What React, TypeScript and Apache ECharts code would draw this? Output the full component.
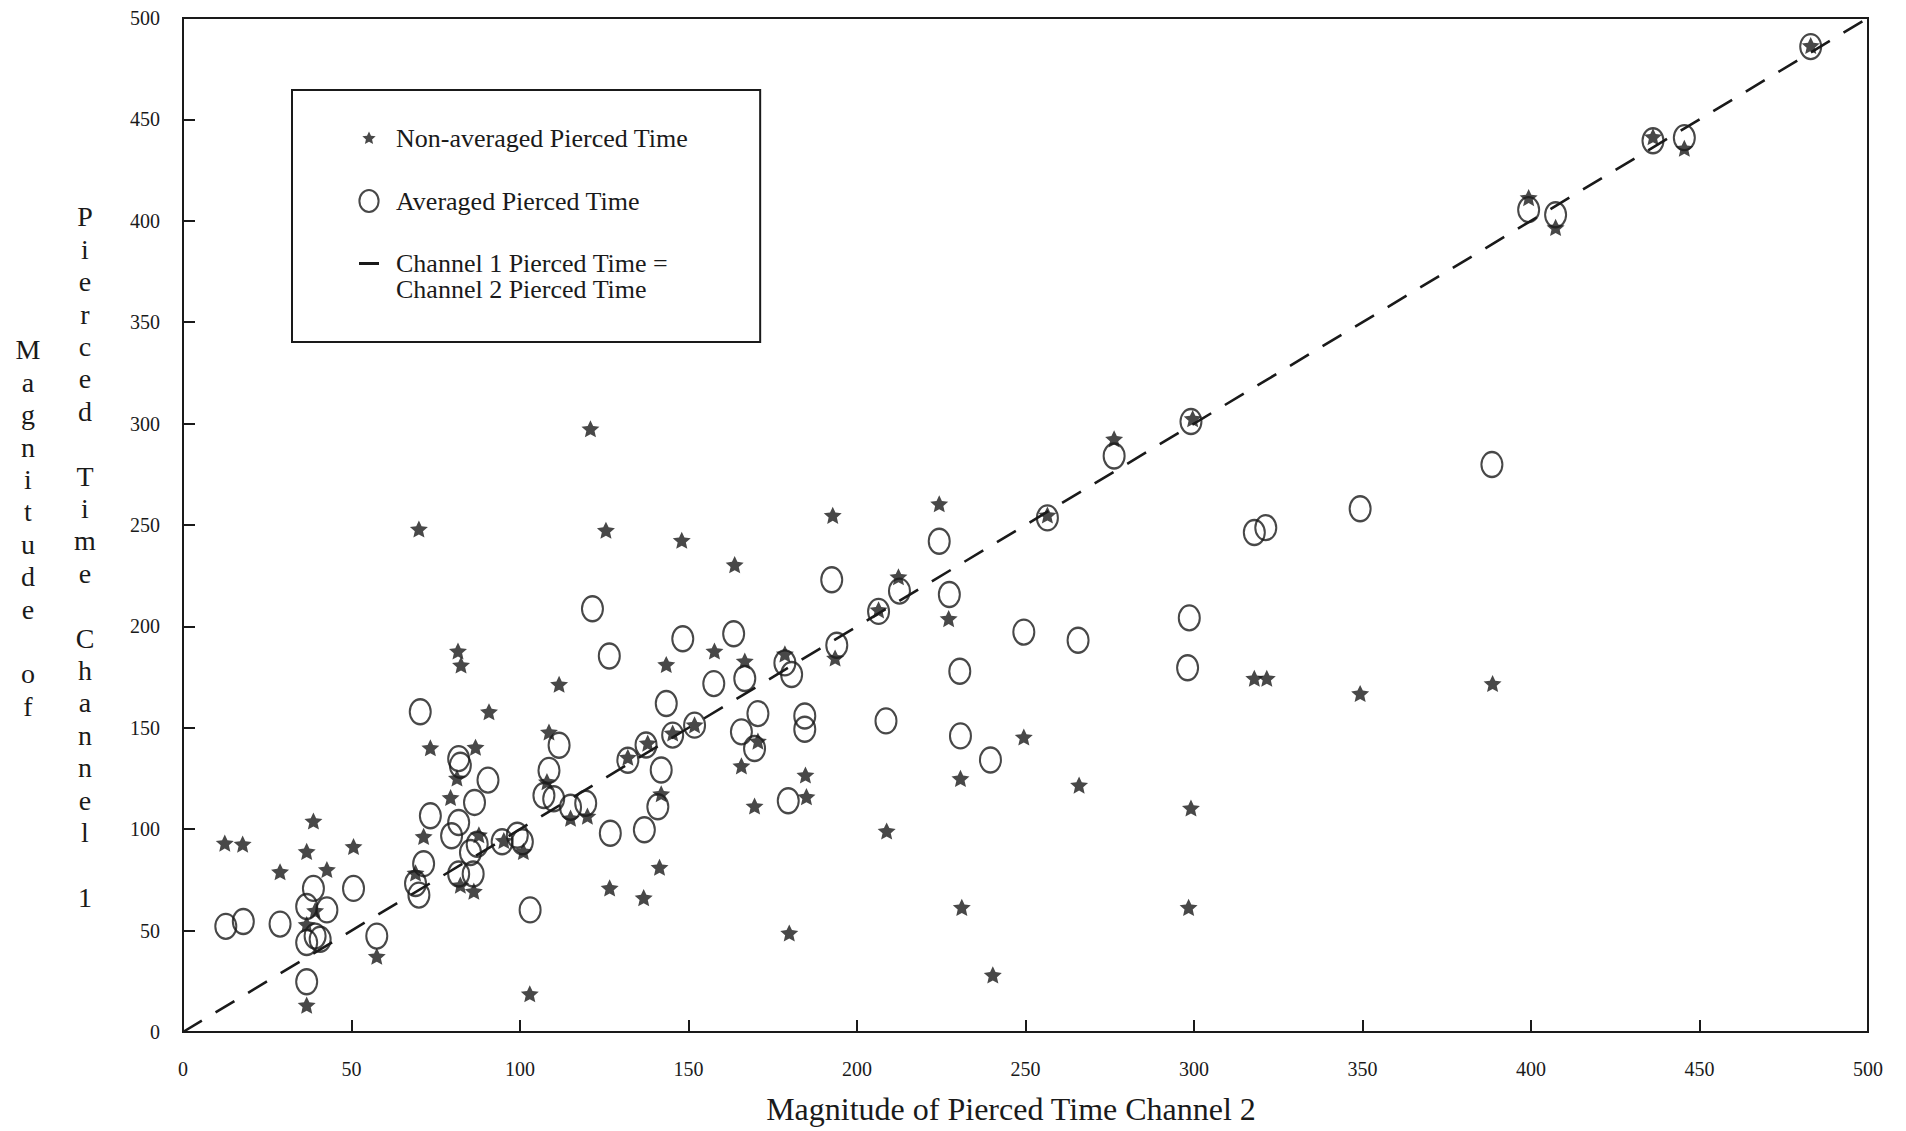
import React, { useEffect, useRef } from "react";
import * as echarts from "echarts";

// ---- data ----
const xTickValues = [0, 50, 100, 150, 200, 250, 300, 350, 400, 450, 500];
const yTickValues = [0, 50, 100, 150, 200, 250, 300, 350, 400, 450, 500];

const nonAveraged: [number, number][] = [
  [12.4, 92.7], [17.7, 92.2], [28.8, 78.6], [38.7, 103.6], [36.7, 88.6], [42.7, 79.7],
  [50.6, 91.0], [36.7, 12.8], [57.5, 36.9], [39.2, 59.4], [36.7, 52.6],
  [73.4, 139.7], [86.8, 140.0], [79.4, 115.2], [81.3, 124.8], [71.4, 96.0], [69.0, 78.0],
  [87.8, 96.8], [86.3, 69.0], [82.3, 72.0], [101.0, 88.6], [102.9, 18.4], [108.6, 147.5],
  [108.0, 123.0], [115.0, 105.0], [95.2, 94.0],
  [81.6, 187.4], [82.5, 180.5], [111.6, 171.0], [90.8, 157.5], [120.0, 106.0], [143.4, 180.8],
  [157.7, 187.4], [166.7, 182.5], [165.7, 130.8], [169.6, 111.0], [141.4, 80.8], [141.9, 117.0],
  [170.6, 143.0], [132.0, 135.0], [137.9, 142.0], [145.3, 147.0], [151.8, 151.0], [163.7, 230.0],
  [126.6, 70.6], [136.7, 65.8], [120.9, 297.0], [125.5, 247.0], [148.0, 242.0], [70.0, 247.6],
  [192.8, 254.3], [224.4, 260.0], [276.3, 292.0], [212.3, 224.0], [206.4, 207.7], [256.5, 254.5],
  [299.6, 302.0], [227.2, 203.4], [193.5, 184.0], [178.6, 186.0], [249.5, 145.0], [230.7, 124.6],
  [265.9, 121.3], [299.1, 110.0], [184.7, 126.3], [185.0, 115.6],
  [208.8, 98.7], [231.1, 61.0], [179.9, 48.4], [240.3, 27.7], [298.4, 61.0],
  [317.9, 174.0], [321.6, 174.0], [349.3, 166.5], [388.6, 171.4],
  [399.3, 411.0], [407.3, 396.3], [436.2, 441.0], [445.5, 435.3], [483.0, 486.0],
];

const averaged: [number, number][] = [
  [12.7, 52.1], [17.9, 54.5], [28.8, 53.2], [38.7, 70.8], [36.7, 61.9], [42.7, 60.2],
  [36.7, 44.1], [39.2, 47.3], [40.7, 45.7], [36.7, 24.8], [50.6, 70.8], [57.5, 47.3],
  [70.0, 67.5], [69.0, 73.2], [71.4, 83.0], [73.4, 106.6], [81.8, 134.8], [82.3, 131.5],
  [90.5, 124.2], [86.5, 113.2], [81.8, 103.3], [79.7, 96.8], [85.3, 88.5], [87.3, 92.6],
  [81.8, 77.9], [86.1, 77.9], [94.7, 93.8], [99.2, 97.0], [100.7, 93.8], [103.0, 60.2],
  [111.6, 141.4], [108.6, 129.0], [107.1, 116.6], [110.0, 115.0], [115.0, 110.8],
  [121.5, 208.7], [126.5, 185.4], [148.3, 193.9], [163.4, 196.4], [157.5, 171.8], [166.7, 174.3],
  [143.4, 162.0], [170.6, 157.0], [165.7, 148.0], [169.6, 139.8], [141.9, 129.2], [140.9, 111.1],
  [136.9, 99.7], [126.8, 98.0], [70.4, 157.9], [119.5, 112.8], [132.0, 134.0], [137.4, 141.5],
  [145.3, 146.4], [151.8, 151.3],
  [224.4, 242.0], [192.5, 223.0], [212.6, 217.4], [206.4, 207.4], [256.5, 253.5], [276.3, 284.0],
  [299.1, 301.0], [227.4, 215.7], [194.0, 190.7], [249.5, 197.2], [265.6, 193.2], [298.6, 204.2],
  [298.1, 179.6], [178.6, 182.0], [180.6, 176.3], [230.5, 177.9], [184.5, 155.8], [184.5, 149.3],
  [208.6, 153.4], [230.7, 146.0], [239.6, 134.1], [179.6, 114.0],
  [388.4, 279.8], [349.3, 258.0], [317.9, 246.3], [321.3, 248.7],
  [399.3, 405.5], [407.3, 403.0], [436.2, 439.5], [445.5, 441.0], [483.0, 485.9],
];

const equalityLine: [number, number][] = [[0, 0], [500, 500]];

const seriesNames = [
  "Non-averaged Pierced Time",
  "Averaged Pierced Time",
  "Channel 1 Pierced Time =\nChannel 2 Pierced Time",
];
const xAxisTitle = "Magnitude of Pierced Time Channel 2";
const yAxisTitleColumns = ["Magnitude of", "Pierced Time Channel 1"];

// ---- styling ----
const INK = "#1a1a1a";
const SERIF = "'Liberation Serif', 'Times New Roman', serif";

// 5-pointed star padded inside a 100x100 box (M points keep the padding)
const STAR =
  "path://M0 0M100 100M50 15L60.0 36.2L83.29 39.18L65.2 54.9L70.57 78.32L50 67L29.43 78.32L34.8 54.9L16.71 39.18L40.0 36.2Z";
const ELLIPSE =
  "path://M50 0C77.6 0 100 22.4 100 50C100 77.6 77.6 100 50 100C22.4 100 0 77.6 0 50C0 22.4 22.4 0 50 0Z";

// legend icons, all in a 100x140 box so they map uniformly onto a 20x28 item
const LEGEND_STAR =
  "path://M0 0M100 140M50 37L60.0 58.2L83.29 61.18L65.2 76.9L70.57 100.32L50 89L29.43 100.32L34.8 76.9L16.71 61.18L40.0 58.2Z";
const LEGEND_ELLIPSE =
  "path://M0 0M100 140M50 15C76.5 15 98 39.6 98 70C98 100.4 76.5 125 50 125C23.5 125 2 100.4 2 70C2 39.6 23.5 15 50 15Z";
const LEGEND_DASH = "path://M0 140M0 1L100 1L100 16L0 16Z";

const stack = (s: string) =>
  s
    .split("")
    .map((c) => (c === " " ? "" : c))
    .join("\n");

export default function App() {
  const ref = useRef<HTMLDivElement>(null);

  useEffect(() => {
    if (!ref.current) return;
    const chart = echarts.init(ref.current, undefined, { renderer: "svg" });
    const xMin = xTickValues[0];
    const xMax = xTickValues[xTickValues.length - 1];
    const yMin = yTickValues[0];
    const yMax = yTickValues[yTickValues.length - 1];

    const axisCommon = {
      type: "value" as const,
      interval: 50,
      axisLine: { show: true, onZero: false, lineStyle: { color: INK, width: 2 } },
      axisTick: { show: true, inside: true, length: 12, lineStyle: { color: INK, width: 2 } },
      splitLine: { show: false },
    };

    chart.setOption({
      animation: false,
      backgroundColor: "#ffffff",
      grid: {
        left: 183,
        right: 38,
        top: 18,
        bottom: 99,
        show: true,
        borderColor: INK,
        borderWidth: 2,
        backgroundColor: "rgba(0,0,0,0)",
        containLabel: false,
        outerBoundsMode: "none",
      },
      xAxis: {
        ...axisCommon,
        min: xMin,
        max: xMax,
        name: xAxisTitle,
        nameLocation: "middle",
        nameGap: 61,
        nameMoveOverlap: false,
        nameTextStyle: {
          fontFamily: SERIF,
          fontSize: 32,
          color: INK,
          padding: [0, 29, 0, 0],
        },
        axisLabel: {
          margin: 27,
          fontFamily: SERIF,
          fontSize: 20,
          color: INK,
          showMinLabel: true,
          showMaxLabel: true,
        },
      },
      yAxis: {
        ...axisCommon,
        min: yMin,
        max: yMax,
        axisLabel: {
          margin: 23,
          fontFamily: SERIF,
          fontSize: 20,
          color: INK,
          showMinLabel: true,
          showMaxLabel: true,
        },
      },
      legend: {
        show: true,
        orient: "vertical",
        left: 292,
        top: 90,
        padding: [34, 72, 40, 66],
        itemGap: 34,
        itemWidth: 20,
        itemHeight: 28,
        symbolKeepAspect: false,
        selectedMode: false,
        borderColor: INK,
        borderWidth: 2,
        borderRadius: 0,
        backgroundColor: "#ffffff",
        textStyle: {
          fontFamily: SERIF,
          fontSize: 26,
          lineHeight: 26,
          color: INK,
          padding: [0, 0, 0, 12],
        },
        data: [
          { name: seriesNames[0], icon: LEGEND_STAR, itemStyle: { color: INK, borderWidth: 0 } },
          {
            name: seriesNames[1],
            icon: LEGEND_ELLIPSE,
            itemStyle: { color: "rgba(255,255,255,0)", borderColor: INK, borderWidth: 2 },
          },
          { name: seriesNames[2], icon: LEGEND_DASH, itemStyle: { color: INK, borderWidth: 0 } },
        ],
      },
      graphic: [
        {
          type: "text",
          x: 28,
          y: 528,
          silent: true,
          style: {
            text: stack(yAxisTitleColumns[0]),
            fill: INK,
            fontFamily: SERIF,
            fontSize: 28,
            lineHeight: 32.4,
            align: "center",
            verticalAlign: "middle",
          },
        },
        {
          type: "text",
          x: 85,
          y: 557,
          silent: true,
          style: {
            text: stack(yAxisTitleColumns[1]),
            fill: INK,
            fontFamily: SERIF,
            fontSize: 28,
            lineHeight: 32.4,
            align: "center",
            verticalAlign: "middle",
          },
        },
      ],
      series: [
        {
          name: seriesNames[2],
          type: "line",
          data: equalityLine,
          symbol: "none",
          silent: true,
          z: 1,
          itemStyle: { color: INK },
          lineStyle: { color: INK, width: 2.6, type: [22, 16] },
        },
        {
          name: seriesNames[1],
          type: "scatter",
          data: averaged,
          symbol: ELLIPSE,
          symbolSize: [21, 25],
          silent: true,
          z: 2,
          itemStyle: { color: "rgba(255,255,255,0)", borderColor: INK, borderWidth: 2.2 },
        },
        {
          name: seriesNames[0],
          type: "scatter",
          data: nonAveraged,
          symbol: STAR,
          symbolSize: 27,
          silent: true,
          z: 3,
          itemStyle: { color: INK },
        },
      ],
    });

    return () => chart.dispose();
  }, []);

  return (
    <div
      ref={ref}
      style={{ position: "absolute", left: 0, top: 0, width: 1906, height: 1131, background: "#fff" }}
    />
  );
}
